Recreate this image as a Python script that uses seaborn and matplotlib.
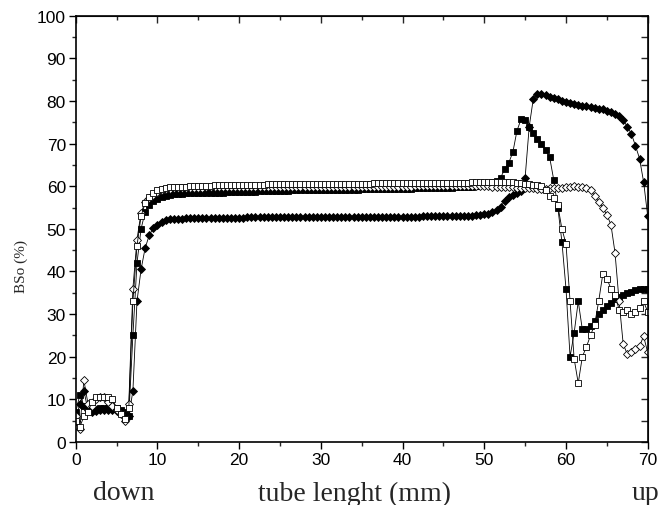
import numpy as np
import pandas as pd
import matplotlib
matplotlib.use("Agg")
import matplotlib.pyplot as plt
import seaborn as sns
from matplotlib.ticker import MultipleLocator

# sampling positions along the tube (mm)
x_mm = [
    0, 0.5, 1, 1.5, 2, 2.5, 3, 3.5, 4, 4.5,
    5, 5.5, 6, 6.5, 7, 7.5, 8, 8.5, 9, 9.5,
    10, 10.5, 11, 11.5, 12, 12.5, 13, 13.5, 14, 14.5,
    15, 15.5, 16, 16.5, 17, 17.5, 18, 18.5, 19, 19.5,
    20, 20.5, 21, 21.5, 22, 22.5, 23, 23.5, 24, 24.5,
    25, 25.5, 26, 26.5, 27, 27.5, 28, 28.5, 29, 29.5,
    30, 30.5, 31, 31.5, 32, 32.5, 33, 33.5, 34, 34.5,
    35, 35.5, 36, 36.5, 37, 37.5, 38, 38.5, 39, 39.5,
    40, 40.5, 41, 41.5, 42, 42.5, 43, 43.5, 44, 44.5,
    45, 45.5, 46, 46.5, 47, 47.5, 48, 48.5, 49, 49.5,
    50, 50.5, 51, 51.5, 52, 52.5, 53, 53.5, 54, 54.5,
    55, 55.5, 56, 56.5, 57, 57.5, 58, 58.5, 59, 59.5,
    60, 60.5, 61, 61.5, 62, 62.5, 63, 63.5, 64, 64.5,
    65, 65.5, 66, 66.5, 67, 67.5, 68, 68.5, 69, 69.5,
    70,
]

# filled squares
bso_filled_sq = [
    7, 11, 8.5, 7.5, 7.5, 7.8, 8, 8, 8, 8,
    8, 7.5, 7, 6, 25, 42, 50, 54, 55.5, 56.5,
    57, 57.4, 57.8, 58, 58.1, 58.2, 58.2, 58.3, 58.3, 58.3,
    58.4, 58.4, 58.4, 58.5, 58.5, 58.5, 58.5, 58.6, 58.6, 58.6,
    58.6, 58.7, 58.7, 58.7, 58.7, 58.8, 58.8, 58.8, 58.8, 58.9,
    58.9, 58.9, 58.9, 59, 59, 59, 59, 59, 59, 59.1,
    59.1, 59.1, 59.1, 59.1, 59.2, 59.2, 59.2, 59.2, 59.2, 59.2,
    59.3, 59.3, 59.3, 59.3, 59.3, 59.3, 59.4, 59.4, 59.4, 59.4,
    59.4, 59.4, 59.4, 59.5, 59.5, 59.5, 59.5, 59.5, 59.5, 59.6,
    59.6, 59.6, 59.6, 59.7, 59.7, 59.8, 59.8, 59.9, 60, 60.2,
    60.5, 60.8, 61, 61.3, 62, 64, 65.5, 68, 73, 75.7,
    75.5, 74, 72.5, 71, 69.8, 68.5, 66.8, 61.5, 55, 47,
    36, 20, 25.6, 33, 26.4, 26.5, 27.2, 28.5, 30, 31,
    31.8, 32.5, 33.5, 34, 34.5, 35, 35.3, 35.6, 35.8, 36,
    36,
]

# filled diamonds
bso_filled_dia = [
    5, 9, 12, 7.5, 7, 7.3, 7.5, 7.5, 7.5, 7.5,
    7.3, 7, 6.5, 6, 12, 33, 40.5, 45.5, 48.5, 50.2,
    51, 51.6, 52, 52.2, 52.3, 52.4, 52.4, 52.5, 52.5, 52.5,
    52.5, 52.5, 52.6, 52.6, 52.6, 52.6, 52.6, 52.6, 52.6, 52.6,
    52.6, 52.6, 52.7, 52.7, 52.7, 52.7, 52.7, 52.7, 52.7, 52.7,
    52.7, 52.7, 52.7, 52.7, 52.7, 52.7, 52.7, 52.7, 52.7, 52.7,
    52.7, 52.7, 52.7, 52.7, 52.8, 52.8, 52.8, 52.8, 52.8, 52.8,
    52.8, 52.8, 52.8, 52.8, 52.8, 52.8, 52.8, 52.8, 52.8, 52.8,
    52.8, 52.8, 52.8, 52.8, 52.8, 52.9, 52.9, 52.9, 52.9, 52.9,
    52.9, 52.9, 53, 53, 53, 53, 53.1, 53.1, 53.2, 53.3,
    53.4, 53.6, 53.9, 54.4, 55.2, 56.5, 57.5, 58, 58.3, 58.8,
    62, 74, 80.5, 81.6, 81.6, 81.3, 81, 80.7, 80.4, 80.1,
    79.8, 79.5, 79.3, 79.1, 78.9, 78.8, 78.6, 78.4, 78.2, 78,
    77.7, 77.3, 77, 76.5, 75.5, 74, 72.3, 69.5, 66.5, 61,
    53,
]

# open squares
bso_open_sq = [
    5, 3.5, 6, 7, 9.5, 10.5, 10.5, 10.5, 10.5, 10,
    8, 6.5, 5.5, 8, 33, 46, 53, 56, 57.5, 58.3,
    59, 59.3, 59.5, 59.7, 59.8, 59.8, 59.9, 59.9, 60, 60,
    60, 60.1, 60.1, 60.1, 60.2, 60.2, 60.2, 60.2, 60.3, 60.3,
    60.3, 60.3, 60.4, 60.4, 60.4, 60.4, 60.4, 60.5, 60.5, 60.5,
    60.5, 60.5, 60.5, 60.5, 60.5, 60.6, 60.6, 60.6, 60.6, 60.6,
    60.6, 60.6, 60.6, 60.6, 60.6, 60.6, 60.6, 60.6, 60.6, 60.6,
    60.6, 60.6, 60.6, 60.7, 60.7, 60.7, 60.7, 60.7, 60.7, 60.7,
    60.7, 60.7, 60.7, 60.7, 60.7, 60.7, 60.7, 60.7, 60.7, 60.7,
    60.7, 60.7, 60.8, 60.8, 60.8, 60.8, 60.8, 60.9, 60.9, 60.9,
    61, 61, 61.1, 61.1, 61.1, 61, 61, 60.9, 60.8, 60.7,
    60.6, 60.5, 60.4, 60.2, 60, 59, 57.8, 57.3, 55.5, 50,
    46.5, 33, 19.5, 13.8, 20, 22.3, 25, 27.5, 33, 39.3,
    38.3, 36, 34.6, 31, 30.5, 31, 30, 30.5, 31.5, 33,
    30.5,
]

# open diamonds
bso_open_dia = [
    6, 3, 14.5, 9, 8.5, 10, 10.5, 10.5, 9.5, 8.5,
    7.5, 6.5, 5, 9, 36, 47.5, 53.8, 56.2, 57.3, 58,
    58.6, 59, 59.3, 59.4, 59.5, 59.5, 59.5, 59.6, 59.6, 59.6,
    59.6, 59.6, 59.7, 59.7, 59.7, 59.7, 59.7, 59.7, 59.8, 59.8,
    59.8, 59.8, 59.8, 59.8, 59.8, 59.8, 59.8, 59.8, 59.8, 59.8,
    59.8, 59.8, 59.8, 59.8, 59.9, 59.9, 59.9, 59.9, 59.9, 59.9,
    59.9, 59.9, 59.9, 59.9, 59.9, 59.9, 59.9, 59.9, 59.9, 59.9,
    59.9, 59.9, 59.9, 59.9, 59.9, 59.9, 59.9, 59.9, 59.9, 59.9,
    59.9, 59.9, 59.9, 60, 60, 60, 60, 60, 60, 60,
    60, 60, 60, 60, 60, 60, 60, 60, 60, 60,
    60, 60, 59.9, 59.9, 59.8, 59.8, 59.7, 59.7, 59.6, 59.6,
    59.5, 59.5, 59.5, 59.4, 59.4, 59.4, 59.5, 59.5, 59.6, 59.6,
    59.7, 59.8, 60, 59.8, 59.8, 59.5, 59, 57.8, 56.3, 55,
    53.3, 51, 44.4, 33, 23, 20.6, 21, 21.7, 22.5, 24.8,
    21,
]

x_ticks = [0, 10, 20, 30, 40, 50, 60, 70]
y_ticks = [0, 10, 20, 30, 40, 50, 60, 70, 80, 90, 100]

df = pd.DataFrame({
    "x": x_mm,
    "fs": bso_filled_sq,
    "fd": bso_filled_dia,
    "os": bso_open_sq,
    "od": bso_open_dia,
})

sns.set_style("ticks")
plt.rcParams["font.family"] = ["Liberation Sans", "DejaVu Sans"]

fig = plt.figure(figsize=(6.59, 5.06), dpi=100)
ax = fig.add_axes([75.7 / 659, 1 - 443 / 506, (647.7 - 75.7) / 659, (443 - 16.7) / 506])

common = dict(ax=ax, color="black", linewidth=0.6, estimator=None, sort=False,
              markersize=4.2, markeredgewidth=0.6, markeredgecolor="black")
sns.lineplot(data=df, x="x", y="fd", marker="D", markerfacecolor="black", **common)
sns.lineplot(data=df, x="x", y="fs", marker="s", markerfacecolor="black", **common)
sns.lineplot(data=df, x="x", y="od", marker="D", markerfacecolor="white", **common)
sns.lineplot(data=df, x="x", y="os", marker="s", markerfacecolor="white", **common)

ax.set_xlim(0, 70)
ax.set_ylim(0, 100)
ax.set_xticks(x_ticks)
ax.set_yticks(y_ticks)
ax.xaxis.set_minor_locator(MultipleLocator(5))
ax.yaxis.set_minor_locator(MultipleLocator(5))
for side in ["left", "right", "top", "bottom"]:
    ax.spines[side].set_visible(True)
    ax.spines[side].set_linewidth(1.2)
    ax.spines[side].set_color("black")

ax.tick_params(axis="both", which="major", direction="out", length=5, width=1.0,
               labelsize=12.5, colors="black", pad=2)
ax.tick_params(axis="both", which="minor", direction="out", length=3, width=1.0)

# inward ticks on top and right
secx = ax.secondary_xaxis("top")
secx.set_xticks(x_ticks)
secx.xaxis.set_minor_locator(MultipleLocator(5))
secx.tick_params(which="major", direction="in", length=5, width=1.0, labeltop=False)
secx.tick_params(which="minor", direction="in", length=3, width=1.0)
secx.set_xticklabels([])
secy = ax.secondary_yaxis("right")
secy.set_yticks(y_ticks)
secy.yaxis.set_minor_locator(MultipleLocator(5))
secy.tick_params(which="major", direction="in", length=5, width=1.0, labelright=False)
secy.tick_params(which="minor", direction="in", length=5, width=1.0)
secy.set_yticklabels([])

ax.set_xlabel("")
ax.set_ylabel("BSo (%)", family="Liberation Serif", fontsize=11)
ax.yaxis.set_label_coords(-0.083, 0.415)

fig.text(124 / 659, 1 - 494 / 506, "down", family="Liberation Serif", fontsize=20,
         ha="center", va="center")
fig.text(355 / 659, 1 - 494 / 506, "tube lenght (mm)", family="Liberation Serif",
         fontsize=20, ha="center", va="center")
fig.text(645 / 659, 1 - 494 / 506, "up", family="Liberation Serif", fontsize=20,
         ha="center", va="center")

fig.savefig("out.png", dpi=100)
